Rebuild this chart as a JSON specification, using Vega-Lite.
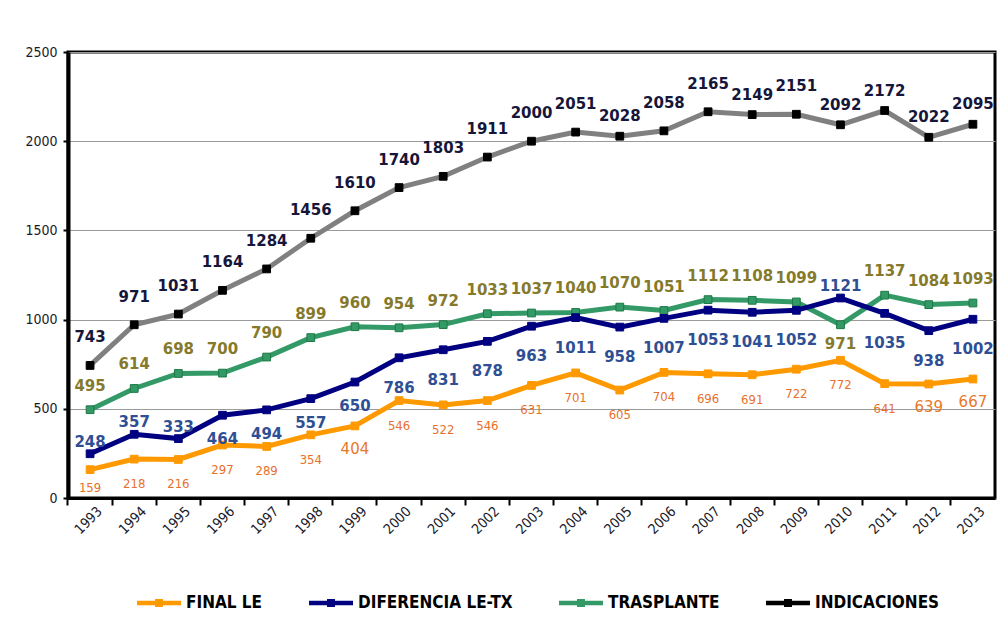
{
  "$schema": "https://vega.github.io/schema/vega-lite/v6.json",
  "autosize": {"type": "none"},
  "width": 927,
  "height": 446,
  "padding": {"left": 68, "top": 52, "right": 2, "bottom": 123},
  "background": "#ffffff",
  "config": {
    "view": {"stroke": "#000000", "strokeWidth": 3},
    "axis": {"labelFont": "DejaVu Sans Condensed", "labelFontSize": 14, "labelColor": "#1a1a2a", "tickColor": "#000000", "domainColor": "#000000"}
  },
  "data": {
    "values": [
      {"year": "1993", "series": "INDICACIONES", "value": 743},
      {"year": "1994", "series": "INDICACIONES", "value": 971},
      {"year": "1995", "series": "INDICACIONES", "value": 1031},
      {"year": "1996", "series": "INDICACIONES", "value": 1164},
      {"year": "1997", "series": "INDICACIONES", "value": 1284},
      {"year": "1998", "series": "INDICACIONES", "value": 1456},
      {"year": "1999", "series": "INDICACIONES", "value": 1610},
      {"year": "2000", "series": "INDICACIONES", "value": 1740},
      {"year": "2001", "series": "INDICACIONES", "value": 1803},
      {"year": "2002", "series": "INDICACIONES", "value": 1911},
      {"year": "2003", "series": "INDICACIONES", "value": 2000},
      {"year": "2004", "series": "INDICACIONES", "value": 2051},
      {"year": "2005", "series": "INDICACIONES", "value": 2028},
      {"year": "2006", "series": "INDICACIONES", "value": 2058},
      {"year": "2007", "series": "INDICACIONES", "value": 2165},
      {"year": "2008", "series": "INDICACIONES", "value": 2149},
      {"year": "2009", "series": "INDICACIONES", "value": 2151},
      {"year": "2010", "series": "INDICACIONES", "value": 2092},
      {"year": "2011", "series": "INDICACIONES", "value": 2172},
      {"year": "2012", "series": "INDICACIONES", "value": 2022},
      {"year": "2013", "series": "INDICACIONES", "value": 2095},
      {"year": "1993", "series": "TRASPLANTE", "value": 495},
      {"year": "1994", "series": "TRASPLANTE", "value": 614},
      {"year": "1995", "series": "TRASPLANTE", "value": 698},
      {"year": "1996", "series": "TRASPLANTE", "value": 700},
      {"year": "1997", "series": "TRASPLANTE", "value": 790},
      {"year": "1998", "series": "TRASPLANTE", "value": 899},
      {"year": "1999", "series": "TRASPLANTE", "value": 960},
      {"year": "2000", "series": "TRASPLANTE", "value": 954},
      {"year": "2001", "series": "TRASPLANTE", "value": 972},
      {"year": "2002", "series": "TRASPLANTE", "value": 1033},
      {"year": "2003", "series": "TRASPLANTE", "value": 1037},
      {"year": "2004", "series": "TRASPLANTE", "value": 1040},
      {"year": "2005", "series": "TRASPLANTE", "value": 1070},
      {"year": "2006", "series": "TRASPLANTE", "value": 1051},
      {"year": "2007", "series": "TRASPLANTE", "value": 1112},
      {"year": "2008", "series": "TRASPLANTE", "value": 1108},
      {"year": "2009", "series": "TRASPLANTE", "value": 1099},
      {"year": "2010", "series": "TRASPLANTE", "value": 971},
      {"year": "2011", "series": "TRASPLANTE", "value": 1137},
      {"year": "2012", "series": "TRASPLANTE", "value": 1084},
      {"year": "2013", "series": "TRASPLANTE", "value": 1093},
      {"year": "1993", "series": "DIFERENCIA LE-TX", "value": 248},
      {"year": "1994", "series": "DIFERENCIA LE-TX", "value": 357},
      {"year": "1995", "series": "DIFERENCIA LE-TX", "value": 333},
      {"year": "1996", "series": "DIFERENCIA LE-TX", "value": 464},
      {"year": "1997", "series": "DIFERENCIA LE-TX", "value": 494},
      {"year": "1998", "series": "DIFERENCIA LE-TX", "value": 557},
      {"year": "1999", "series": "DIFERENCIA LE-TX", "value": 650},
      {"year": "2000", "series": "DIFERENCIA LE-TX", "value": 786},
      {"year": "2001", "series": "DIFERENCIA LE-TX", "value": 831},
      {"year": "2002", "series": "DIFERENCIA LE-TX", "value": 878},
      {"year": "2003", "series": "DIFERENCIA LE-TX", "value": 963},
      {"year": "2004", "series": "DIFERENCIA LE-TX", "value": 1011},
      {"year": "2005", "series": "DIFERENCIA LE-TX", "value": 958},
      {"year": "2006", "series": "DIFERENCIA LE-TX", "value": 1007},
      {"year": "2007", "series": "DIFERENCIA LE-TX", "value": 1053},
      {"year": "2008", "series": "DIFERENCIA LE-TX", "value": 1041},
      {"year": "2009", "series": "DIFERENCIA LE-TX", "value": 1052},
      {"year": "2010", "series": "DIFERENCIA LE-TX", "value": 1121},
      {"year": "2011", "series": "DIFERENCIA LE-TX", "value": 1035},
      {"year": "2012", "series": "DIFERENCIA LE-TX", "value": 938},
      {"year": "2013", "series": "DIFERENCIA LE-TX", "value": 1002},
      {"year": "1993", "series": "FINAL LE", "value": 159},
      {"year": "1994", "series": "FINAL LE", "value": 218},
      {"year": "1995", "series": "FINAL LE", "value": 216},
      {"year": "1996", "series": "FINAL LE", "value": 297},
      {"year": "1997", "series": "FINAL LE", "value": 289},
      {"year": "1998", "series": "FINAL LE", "value": 354},
      {"year": "1999", "series": "FINAL LE", "value": 404},
      {"year": "2000", "series": "FINAL LE", "value": 546},
      {"year": "2001", "series": "FINAL LE", "value": 522},
      {"year": "2002", "series": "FINAL LE", "value": 546},
      {"year": "2003", "series": "FINAL LE", "value": 631},
      {"year": "2004", "series": "FINAL LE", "value": 701},
      {"year": "2005", "series": "FINAL LE", "value": 605},
      {"year": "2006", "series": "FINAL LE", "value": 704},
      {"year": "2007", "series": "FINAL LE", "value": 696},
      {"year": "2008", "series": "FINAL LE", "value": 691},
      {"year": "2009", "series": "FINAL LE", "value": 722},
      {"year": "2010", "series": "FINAL LE", "value": 772},
      {"year": "2011", "series": "FINAL LE", "value": 641},
      {"year": "2012", "series": "FINAL LE", "value": 639},
      {"year": "2013", "series": "FINAL LE", "value": 667}
    ]
  },
  "encoding": {
    "x": {
      "field": "year", "type": "ordinal",
      "scale": {"type": "band", "paddingInner": 0, "paddingOuter": 0},
      "axis": {"title": null, "labelAngle": -45, "labelAlign": "right", "labelBaseline": "middle", "bandPosition": 0, "labelOffset": 10, "labelPadding": 4, "tickSize": 7, "tickWidth": 2, "domainWidth": 3, "grid": false}
    },
    "y": {
      "field": "value", "type": "quantitative",
      "scale": {"domain": [0, 2500], "nice": false, "zero": true},
      "axis": {"title": null, "format": "d", "values": [0, 500, 1000, 1500, 2000, 2500], "tickSize": 5, "tickWidth": 2, "domainWidth": 4, "labelPadding": 6, "grid": true, "gridColor": "#9a9a9a", "gridWidth": 1, "gridOpacity": 1}
    }
  },
  "layer": [
    {
      "mark": {"type": "line", "strokeWidth": 5},
      "encoding": {
        "color": {
          "field": "series", "type": "nominal",
          "scale": {"domain": ["FINAL LE", "DIFERENCIA LE-TX", "TRASPLANTE", "INDICACIONES"], "range": ["#FF9900", "#000080", "#339966", "#808080"]},
          "legend": {
            "title": null, "orient": "none", "direction": "horizontal", "legendX": 69, "legendY": 529,
            "symbolType": "M-1,-0.1H1V0.1H-1Z M-0.18,-0.18H0.18V0.18H-0.18Z",
            "symbolSize": 1936, "symbolStrokeWidth": 0,
            "labelFont": "DejaVu Sans Condensed", "labelFontSize": 17, "labelFontWeight": "bold", "labelColor": "#000000",
            "labelOffset": 5, "columnPadding": 46, "labelLimit": 300,
            "encode": {"symbols": {"update": {"fill": {"scale": "color", "field": "value"}, "fillOpacity": {"value": 1}}}}
          }
        }
      }
    },
    {
      "mark": {"type": "point", "shape": "square", "filled": true, "size": 60, "opacity": 1, "strokeWidth": 1},
      "encoding": {
        "fill": {"field": "series", "type": "nominal", "legend": null,
          "scale": {"domain": ["FINAL LE", "DIFERENCIA LE-TX", "TRASPLANTE", "INDICACIONES"], "range": ["#FF9900", "#000080", "#339966", "#000000"]}},
        "stroke": {"field": "series", "type": "nominal", "legend": null,
          "scale": {"domain": ["FINAL LE", "DIFERENCIA LE-TX", "TRASPLANTE", "INDICACIONES"], "range": ["#FF9900", "#000080", "#1d7a44", "#000000"]}}
      }
    },
    {
      "transform": [{"filter": {"and": [{"field": "series", "equal": "INDICACIONES"}, {"not": {"field": "year", "oneOf": ["2005", "2008", "2010", "2011", "2012", "2013"]}}]}}],
      "mark": {"type": "text", "font": "DejaVu Sans", "fontSize": 15, "fontWeight": "bold", "color": "#16163a", "dy": -28},
      "encoding": {"text": {"field": "value", "type": "quantitative"}}
    },
    {
      "transform": [{"filter": {"and": [{"field": "series", "equal": "INDICACIONES"}, {"field": "year", "oneOf": ["2005", "2008", "2010", "2011", "2012", "2013"]}]}}],
      "mark": {"type": "text", "font": "DejaVu Sans", "fontSize": 15, "fontWeight": "bold", "color": "#16163a", "dy": -20},
      "encoding": {"text": {"field": "value", "type": "quantitative"}}
    },
    {
      "transform": [{"filter": {"and": [{"field": "series", "equal": "TRASPLANTE"}, {"not": {"field": "year", "equal": "2010"}}]}}],
      "mark": {"type": "text", "font": "DejaVu Sans", "fontSize": 15, "fontWeight": "bold", "color": "#857a2c", "dy": -24},
      "encoding": {"text": {"field": "value", "type": "quantitative"}}
    },
    {
      "transform": [{"filter": {"and": [{"field": "series", "equal": "TRASPLANTE"}, {"field": "year", "equal": "2010"}]}}],
      "mark": {"type": "text", "font": "DejaVu Sans", "fontSize": 15, "fontWeight": "bold", "color": "#857a2c", "dy": 19},
      "encoding": {"text": {"field": "value", "type": "quantitative"}}
    },
    {
      "transform": [{"filter": {"and": [{"field": "series", "equal": "DIFERENCIA LE-TX"}, {"not": {"field": "year", "oneOf": ["1993", "1994", "1995", "1996", "1997", "1998", "1999", "2010"]}}]}}],
      "mark": {"type": "text", "font": "DejaVu Sans", "fontSize": 15, "fontWeight": "bold", "color": "#2f4f94", "dy": 30},
      "encoding": {"text": {"field": "value", "type": "quantitative"}}
    },
    {
      "transform": [{"filter": {"and": [{"field": "series", "equal": "DIFERENCIA LE-TX"}, {"field": "year", "oneOf": ["1996", "1997", "1998", "1999"]}]}}],
      "mark": {"type": "text", "font": "DejaVu Sans", "fontSize": 15, "fontWeight": "bold", "color": "#2f4f94", "dy": 24},
      "encoding": {"text": {"field": "value", "type": "quantitative"}}
    },
    {
      "transform": [{"filter": {"and": [{"field": "series", "equal": "DIFERENCIA LE-TX"}, {"field": "year", "oneOf": ["1993", "1994", "1995", "2010"]}]}}],
      "mark": {"type": "text", "font": "DejaVu Sans", "fontSize": 15, "fontWeight": "bold", "color": "#2f4f94", "dy": -12},
      "encoding": {"text": {"field": "value", "type": "quantitative"}}
    },
    {
      "transform": [{"filter": {"and": [{"field": "series", "equal": "FINAL LE"}, {"not": {"field": "year", "oneOf": ["1993", "1999", "2012", "2013"]}}]}}],
      "mark": {"type": "text", "font": "DejaVu Sans Condensed", "fontSize": 13, "color": "#e8702a", "dy": 25},
      "encoding": {"text": {"field": "value", "type": "quantitative"}}
    },
    {
      "transform": [{"filter": {"and": [{"field": "series", "equal": "FINAL LE"}, {"field": "year", "equal": "1993"}]}}],
      "mark": {"type": "text", "font": "DejaVu Sans Condensed", "fontSize": 13, "color": "#e8702a", "dy": 18},
      "encoding": {"text": {"field": "value", "type": "quantitative"}}
    },
    {
      "transform": [{"filter": {"and": [{"field": "series", "equal": "FINAL LE"}, {"field": "year", "oneOf": ["1999", "2012", "2013"]}]}}],
      "mark": {"type": "text", "font": "DejaVu Sans", "fontSize": 15, "color": "#e8782a", "dy": 23},
      "encoding": {"text": {"field": "value", "type": "quantitative"}}
    }
  ]
}
